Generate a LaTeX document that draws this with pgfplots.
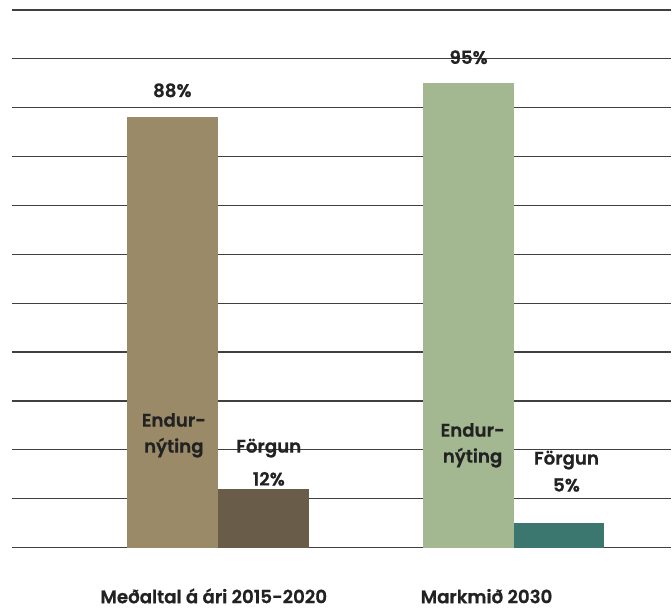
\documentclass[border=0pt]{standalone}
\usepackage{fontspec}
\setmainfont{Poppins}[BoldFont={Poppins SemiBold}, BoldFeatures={FakeBold=0.8}]
\usepackage{pgfplots}
\pgfplotsset{compat=1.18}
\definecolor{cA}{HTML}{9A8A67}
\definecolor{cB}{HTML}{695D4A}
\definecolor{cC}{HTML}{A3B791}
\definecolor{cD}{HTML}{3B776F}
\definecolor{tx}{HTML}{222222}
\begin{document}
\begin{tikzpicture}
\begin{axis}[
  scale only axis, width=660pt, height=538pt,
  xmin=12, xmax=672, ymin=0, ymax=110,
  axis line style={draw=none}, tick style={draw=none},
  xtick=\empty, ytick={0,10,...,110}, yticklabels={},
  ymajorgrids, grid style={color=black!75, line width=1.2pt},
  ybar, bar width=91, bar shift=0pt, clip=false,
  nodes={font=\fontsize{18.2}{29}\selectfont\bfseries, text=tx, inner sep=0pt, anchor=base},
]
\addplot[fill=cA, draw=none] coordinates {(172.5,88)};
\addplot[fill=cB, draw=none] coordinates {(263.5,12)};
\addplot[fill=cC, draw=none] coordinates {(469,95)};
\addplot[fill=cD, draw=none] coordinates {(559.5,5)};
\node at (axis cs:172.5,92.2) {88\%};
\node at (axis cs:469,98.96) {95\%};
\node at (axis cs:174,24.74) {Endur-};
\node at (axis cs:174,19.42) {nýting};
\node at (axis cs:473,22.69) {Endur-};
\node at (axis cs:473,17.38) {nýting};
\node at (axis cs:269,19.42) {Förgun};
\node at (axis cs:269,12.68) {12\%};
\node at (axis cs:567,16.97) {Förgun};
\node at (axis cs:567,11.45) {5\%};
\node[text depth=0pt] at (axis cs:214,-11.4) {Meðaltal á ári 2015-2020};
\node[text depth=0pt] at (axis cs:487,-11.4) {Markmið 2030};
\path (axis cs:12,0) ++(-12pt,-61pt) coordinate (bl);
\path (axis cs:672,110) ++(0pt,10pt) coordinate (tr);
\end{axis}
\useasboundingbox (bl) rectangle (tr);
\end{tikzpicture}
\end{document}
